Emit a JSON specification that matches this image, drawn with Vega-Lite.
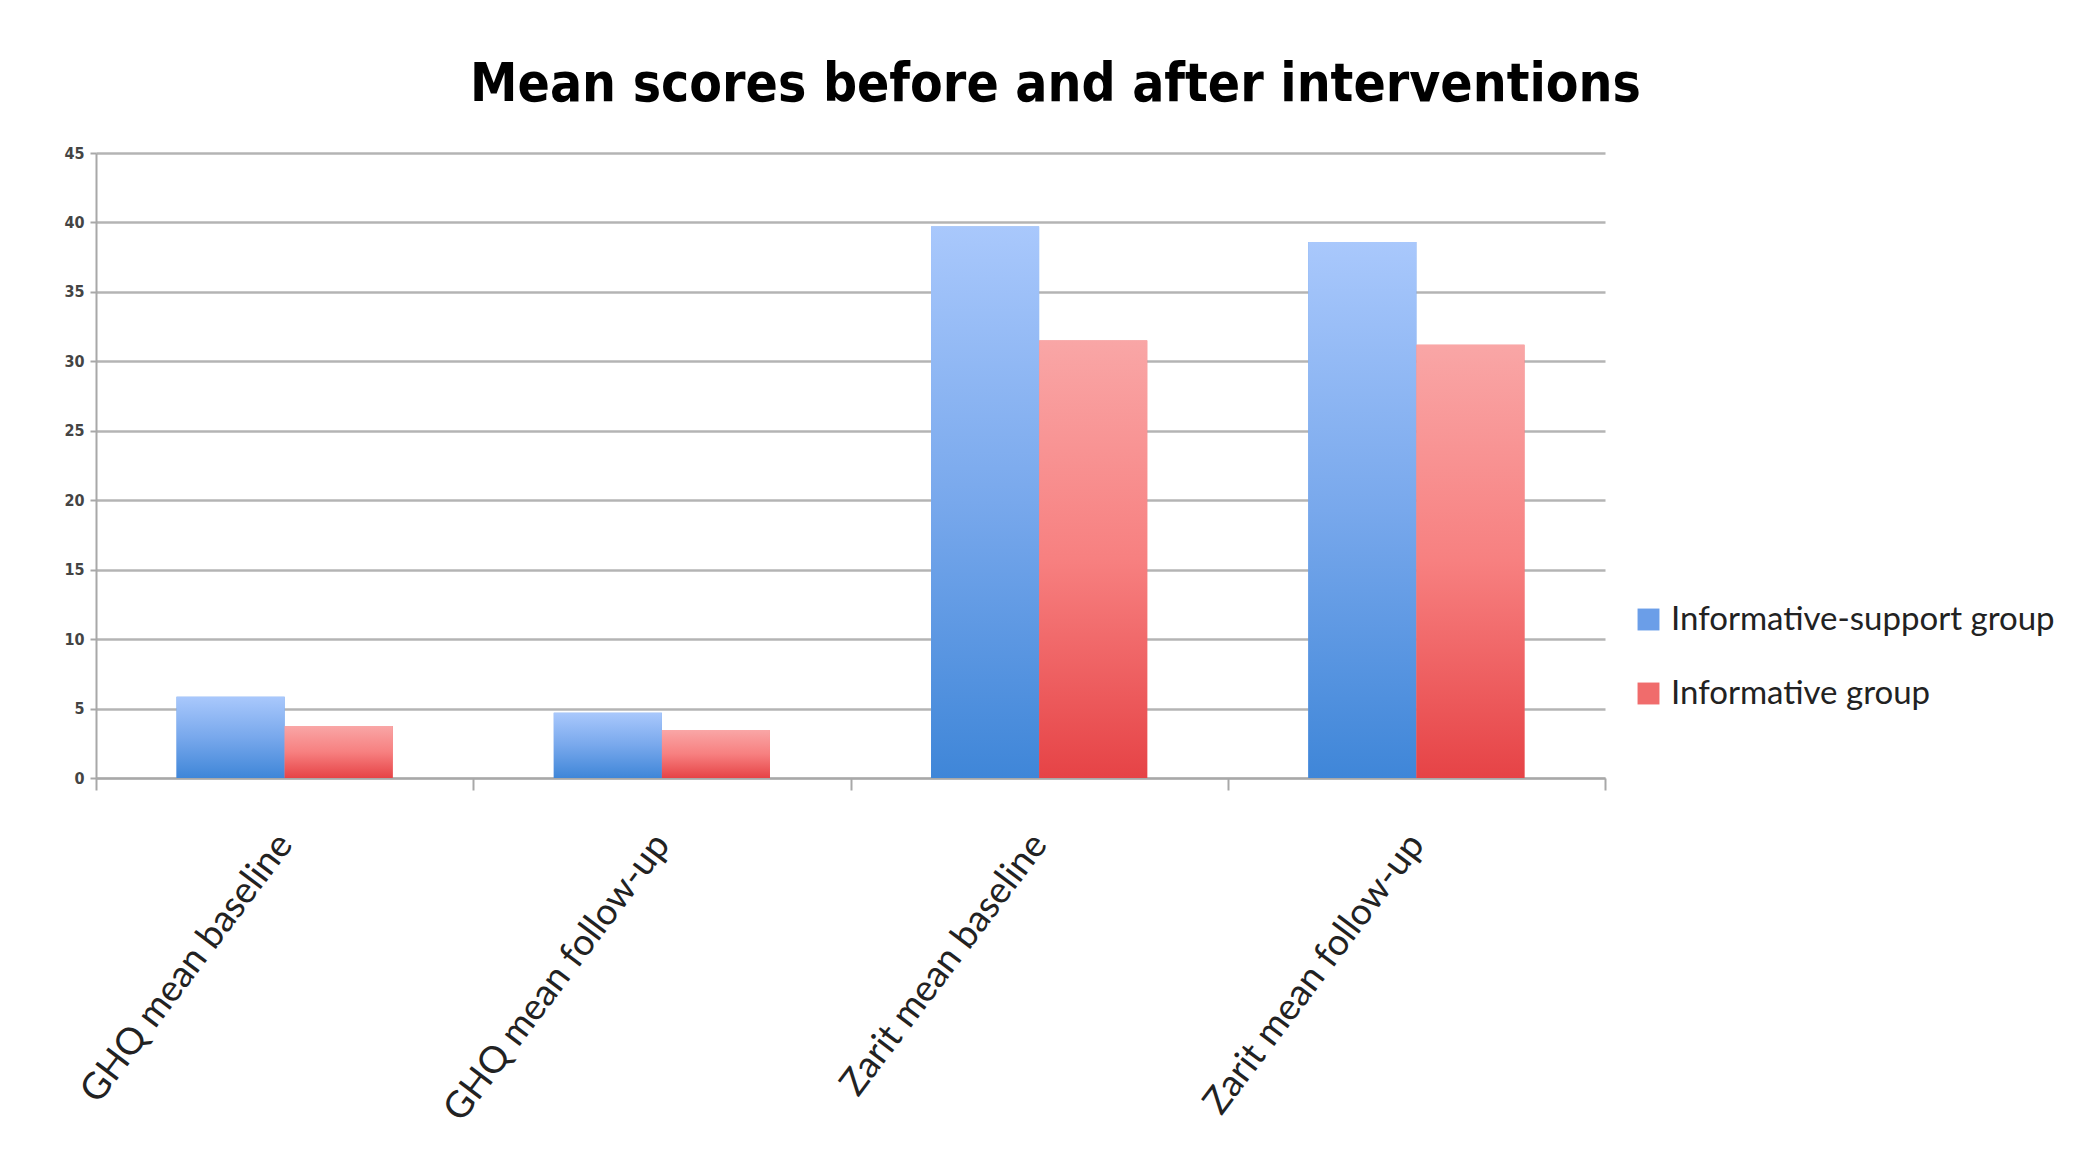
{
  "$schema": "https://vega.github.io/schema/vega-lite/v6.json",
  "width": 1509,
  "height": 625,
  "autosize": {"type": "none"},
  "padding": {"left": 96, "top": 153, "right": 487, "bottom": 371},
  "background": "white",
  "title": {
    "text": "Mean scores before and after interventions",
    "font": "Liberation Sans Narrow, DejaVu Sans Condensed, sans-serif",
    "fontSize": 53,
    "fontWeight": "bold",
    "color": "#000000",
    "anchor": "middle",
    "frame": "group",
    "dx": 205,
    "offset": 33
  },
  "data": {
    "values": [
      {"measure": "GHQ mean baseline", "group": "Informative-support group", "value": 5.85},
      {"measure": "GHQ mean baseline", "group": "Informative group", "value": 3.74},
      {"measure": "GHQ mean follow-up", "group": "Informative-support group", "value": 4.7},
      {"measure": "GHQ mean follow-up", "group": "Informative group", "value": 3.45},
      {"measure": "Zarit mean baseline", "group": "Informative-support group", "value": 39.7},
      {"measure": "Zarit mean baseline", "group": "Informative group", "value": 31.5},
      {"measure": "Zarit mean follow-up", "group": "Informative-support group", "value": 38.6},
      {"measure": "Zarit mean follow-up", "group": "Informative group", "value": 31.2}
    ]
  },
  "encoding": {
    "x": {
      "field": "measure",
      "type": "nominal",
      "sort": null,
      "scale": {"paddingInner": 0, "paddingOuter": 0},
      "axis": {
        "title": null,
        "labelAngle": -53,
        "labelAlign": "right",
        "labelBaseline": "middle",
        "labelFont": "Lato",
        "labelFontSize": 37,
        "labelColor": "#222222",
        "labelPadding": 48,
        "tickBand": "extent",
        "tickSize": 12,
        "tickColor": "#a8a8a8",
        "tickWidth": 2,
        "domainColor": "#a8a8a8",
        "domainWidth": 2,
        "grid": false,
        "labelLimit": 1000
      }
    },
    "xOffset": {
      "field": "group",
      "type": "nominal",
      "sort": ["Informative-support group", "Informative group"],
      "scale": {"paddingInner": 0, "paddingOuter": 0.745}
    },
    "y": {
      "field": "value",
      "type": "quantitative",
      "scale": {"domain": [0, 45], "nice": false},
      "axis": {
        "title": null,
        "values": [0, 5, 10, 15, 20, 25, 30, 35, 40, 45],
        "labelFont": "Liberation Sans Narrow, DejaVu Sans Condensed, sans-serif",
        "labelFontSize": 16,
        "labelFontWeight": "bold",
        "labelColor": "#444444",
        "labelPadding": 6,
        "tickSize": 6,
        "tickColor": "#a8a8a8",
        "tickWidth": 2,
        "domainColor": "#a8a8a8",
        "domainWidth": 2,
        "grid": true,
        "gridColor": "#b4b4b4",
        "gridWidth": 2.5
      }
    }
  },
  "layer": [
    {
      "mark": {"type": "bar"},
      "encoding": {
        "color": {
          "field": "group",
          "type": "nominal",
          "sort": ["Informative-support group", "Informative group"],
          "scale": {"domain": ["Informative-support group", "Informative group"], "range": ["#6b9ee8", "#f06c6c"]},
          "legend": {
            "title": null,
            "orient": "none",
            "legendX": 1536,
            "legendY": 450,
            "symbolType": "square",
            "symbolSize": 480,
            "symbolStrokeWidth": 0,
            "labelFont": "Lato",
            "labelFontSize": 33,
            "labelColor": "#222222",
            "labelLimit": 1000,
            "rowPadding": 40,
            "labelOffset": 6
          }
        }
      }
    },
    {
      "transform": [{"filter": "datum.group === 'Informative-support group'"}],
      "mark": {
        "type": "bar",
        "color": {
          "gradient": "linear", "x1": 0, "y1": 0, "x2": 0, "y2": 1,
          "stops": [{"offset": 0, "color": "#a9c8fc"}, {"offset": 0.5, "color": "#78a8ec"}, {"offset": 1, "color": "#3f86d8"}]
        }
      }
    },
    {
      "transform": [{"filter": "datum.group === 'Informative group'"}],
      "mark": {
        "type": "bar",
        "color": {
          "gradient": "linear", "x1": 0, "y1": 0, "x2": 0, "y2": 1,
          "stops": [{"offset": 0, "color": "#f9a6a6"}, {"offset": 0.5, "color": "#f78080"}, {"offset": 1, "color": "#e64346"}]
        }
      }
    }
  ],
  "config": {"view": {"stroke": null}}
}
